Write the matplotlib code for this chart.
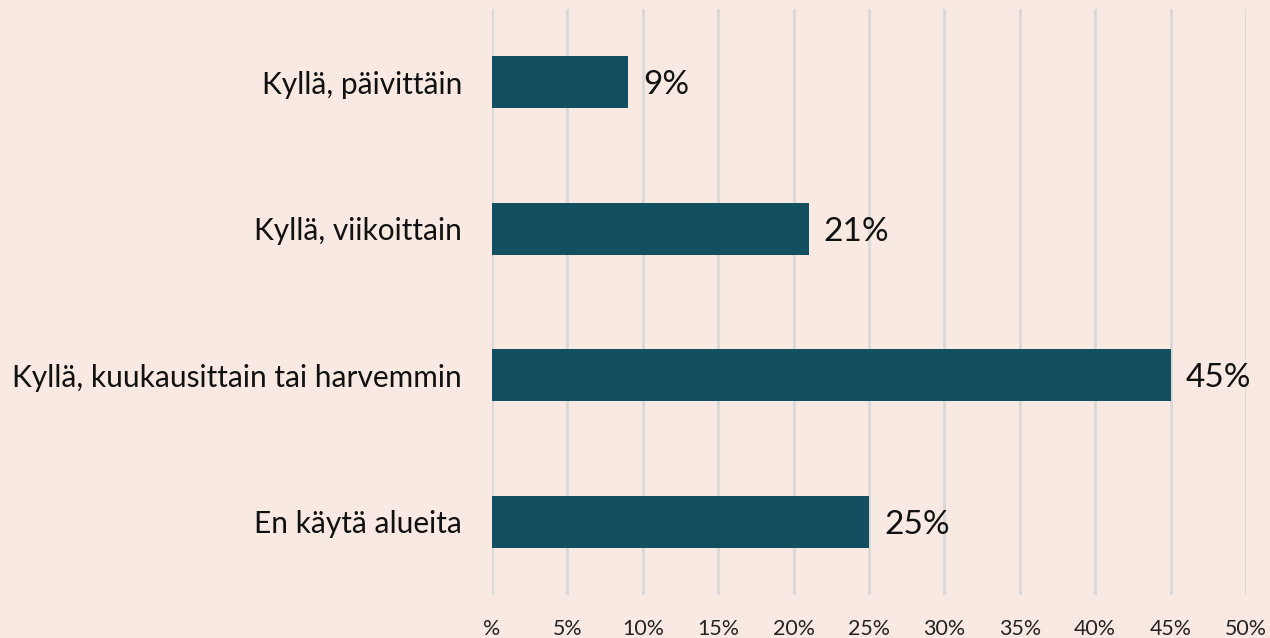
import matplotlib.pyplot as plt
import numpy as np

# Data
categories = ["Kyllä, päivittäin", "Kyllä, viikoittain",
              "Kyllä, kuukausittain tai harvemmin", "En käytä alueita"]
values = [9, 21, 45, 25]
ticks = [0, 5, 10, 15, 20, 25, 30, 35, 40, 45, 50]
tick_labels = ["%"] + [str(t) + "%" for t in ticks[1:]]

bg = "#F8E9E2"
bar_color = "#124F60"

plt.rcParams['font.family'] = ['Lato', 'DejaVu Sans']

fig = plt.figure(figsize=(12.7, 6.38), dpi=100, facecolor=bg)
ax = fig.add_axes([0.3874, 0.0674, 0.5937, 0.9185])
ax.set_facecolor(bg)

ind = np.arange(len(categories))
ax.barh(ind, values, height=0.355, color=bar_color, zorder=3)

for i, v in zip(ind, values):
    ax.text(v + 1.0, i + 0.02, str(v) + "%", va="center", ha="left",
            fontsize=24, color="#111111")

ax.set_xlim(0, 50)
ax.set_ylim(len(categories) - 0.5, -0.5)
ax.set_xticks(ticks)
ax.set_xticklabels(tick_labels, fontsize=15.4, color="#222222")
ax.set_yticks(ind)
ax.set_yticklabels(categories, fontsize=21.5, color="#111111")
ax.tick_params(axis="both", length=0)
ax.tick_params(axis="x", pad=17)
ax.tick_params(axis="y", pad=21.5)

ax.grid(axis="x", color="#D9D9D9", linewidth=2, zorder=0)
for s in ax.spines.values():
    s.set_visible(False)

fig.savefig("out.png", dpi=100, facecolor=bg)
